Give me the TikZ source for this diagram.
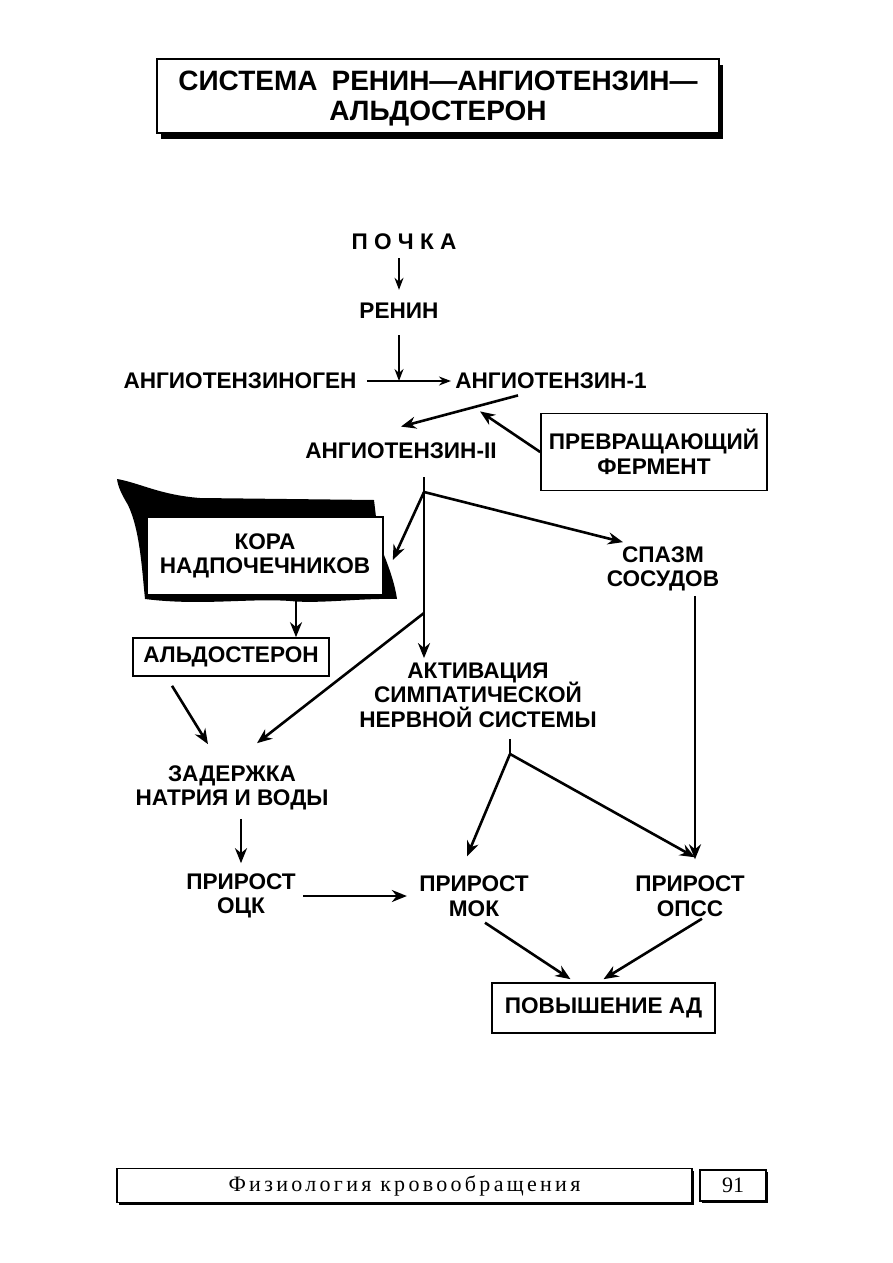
\documentclass[tikz,border=0pt]{standalone}
\usepackage{fontspec}
\setmainfont{Liberation Sans}
\newfontfamily\footfont{Liberation Serif}
\usetikzlibrary{arrows.meta, calc, shadows}
\newcommand\flowfont{\bfseries\fontsize{11.3}{12.3}\selectfont\lineskiplimit=-5pt\relax}

\begin{document}
\begin{tikzpicture}[
    x=0.5pt, y=-0.5pt,
    >=Stealth,
    lbl/.style={font=\flowfont, align=center, inner sep=2pt},
    box/.style={lbl, draw, line width=0.8pt, fill=white},
    titlebox/.style={draw, line width=0.8pt, fill=white, align=center, text depth=0pt,
        font=\bfseries\fontsize{14}{15}\selectfont,
        drop shadow={shadow xshift=1.8pt, shadow yshift=-3pt, opacity=1, fill=black}},
    footbox/.style={draw, line width=0.7pt, fill=white,
        font=\footfont\fontsize{11}{12}\selectfont,
        drop shadow={shadow xshift=1.2pt, shadow yshift=-1.2pt, opacity=1, fill=black}},
    arrow/.style={-{Stealth[length=7.5pt, width=6pt]}, line width=1.3pt},
    thinarrow/.style={-{Stealth[length=6pt, width=4.5pt]}, line width=0.8pt},
    conn/.style={line width=1.3pt},
]

\path[use as bounding box, fill=white] (0,0) rectangle (893,1263);

% ============================================================
%  Title
% ============================================================
\node[titlebox, minimum width=281pt, minimum height=37pt] (title) at (438, 96)
    {СИСТЕМА\hspace{0.5em}РЕНИН—АНГИОТЕНЗИН—\\АЛЬДОСТЕРОН};

% ============================================================
%  Renin -> angiotensin chain
% ============================================================
\node[lbl] (pochka) at (404, 242) {П О Ч К А};
\node[lbl] (renin) at (399, 311) {РЕНИН};
\node[lbl] (ago) at (240, 381) {АНГИОТЕНЗИНОГЕН};
\node[lbl] (at1) at (551, 381) {АНГИОТЕНЗИН-1};
\node[lbl] (at2) at (401, 451) {АНГИОТЕНЗИН-II};
\node[box, minimum width=113pt, minimum height=38.5pt] (ferm) at (654, 452)
    {ПРЕВРАЩАЮЩИЙ\\ФЕРМЕНТ};

\draw[thinarrow, shorten <=2pt, shorten >=4.5pt] (pochka.south -| renin.north) -- (renin.north);
\draw[thinarrow, shorten <=6pt] (renin.south) -- (renin.south |- ago.east);
\draw[thinarrow, shorten <=3pt] (ago.east) -- (at1.west);
\draw[arrow] ($(at1.south)+(-33,2)$) -- ($(at2.north)+(0,-12)$);
\draw[arrow] (ferm.west) -- ($(at1.south)+(-71,18)$);

% ============================================================
%  Adrenal cortex (black torn backdrop)
% ============================================================
\fill (117,479) .. controls (140,483) and (160,495) .. (200,498) -- (374,500)
    -- (376,517) -- (383,517) -- (384,555)
    .. controls (390,570) and (395,585) .. (397,599)
    .. controls (360,598) and (320,604) .. (290,601)
    .. controls (250,598) and (200,606) .. (145,599)
    .. controls (142,570) and (140,530) .. (128,505)
    .. controls (122,495) and (118,487) .. (117,479) -- cycle;
\node[box, minimum width=118pt, minimum height=39pt] (kora) at (265, 556)
    {КОРА\\НАДПОЧЕЧНИКОВ};
\node[box, minimum width=98pt, minimum height=19pt] (ald) at (231, 657) {АЛЬДОСТЕРОН};

% ============================================================
%  Effects
% ============================================================
\node[lbl] (spazm) at (663, 569) {СПАЗМ\\СОСУДОВ};
\node[lbl] (akt) at (478, 695) {АКТИВАЦИЯ\\СИМПАТИЧЕСКОЙ\\НЕРВНОЙ СИСТЕМЫ};
\node[lbl] (zader) at (232, 788) {ЗАДЕРЖКА\\НАТРИЯ И ВОДЫ};
\node[lbl] (ock) at (241, 896) {ПРИРОСТ\\ОЦК};
\node[lbl] (mok) at (474, 896) {ПРИРОСТ\\МОК};
\node[lbl] (opss) at (690, 896) {ПРИРОСТ\\ОПСС};
\node[box, minimum width=111.5pt, minimum height=25pt] (pad) at (603.5, 1008) {ПОВЫШЕНИЕ АД};

\coordinate (br1) at (424, 492);
\coordinate (br2) at (424, 613);
\coordinate (br3) at (510, 754);

\draw[arrow] ($(at2.south)+(23,14)$) -- (br1 |- akt.north);
\draw[arrow] (br1) -- ($(spazm.north)+(-40,0)$);
\draw[arrow] (br1) -- ([xshift=4.5pt, yshift=-2pt]kora.east);
\draw[arrow] (br2) -- ($(zader.north)+(25,-18)$);

\draw[arrow] ($(kora.south)+(31,0)$) -- ($(ald.north)+(65,0)$);
\draw[arrow] ($(ald.south)+(-59,9)$) -- ($(zader.north)+(-24,-17)$);
\draw[arrow, shorten <=2pt, shorten >=3pt] (zader.south -| ock.north) -- (ock.north);
\draw[arrow, shorten <=1.5pt, shorten >=4pt] (ock.east) -- (mok.west);

\draw[conn] ($(akt.south)+(32,7)$) -- (br3);
\draw[arrow] (br3) -- ($(mok.north)+(-7,-15)$);
\draw[arrow] (br3) -- ($(opss.north)+(5,-14)$);
\draw[arrow] ($(spazm.south)+(32,0)$) -- ($(opss.north)+(5,-12)$);

\draw[arrow] ($(mok.south)+(11,2)$) -- ($(pad.north)+(-33,-3)$);
\draw[arrow] ($(opss.south)+(12,-2)$) -- ($(pad.north)+(0,-3)$);

% ============================================================
%  Page footer
% ============================================================
\node[footbox, minimum width=287.5pt, minimum height=15.5pt] (foot) at (404.5, 1185.5)
    {\addfontfeature{LetterSpace=15}Физиология кровообращения};
\node[footbox, minimum width=33pt, minimum height=15.5pt] (page) at (733, 1185.5) {91};

\end{tikzpicture}
\end{document}
